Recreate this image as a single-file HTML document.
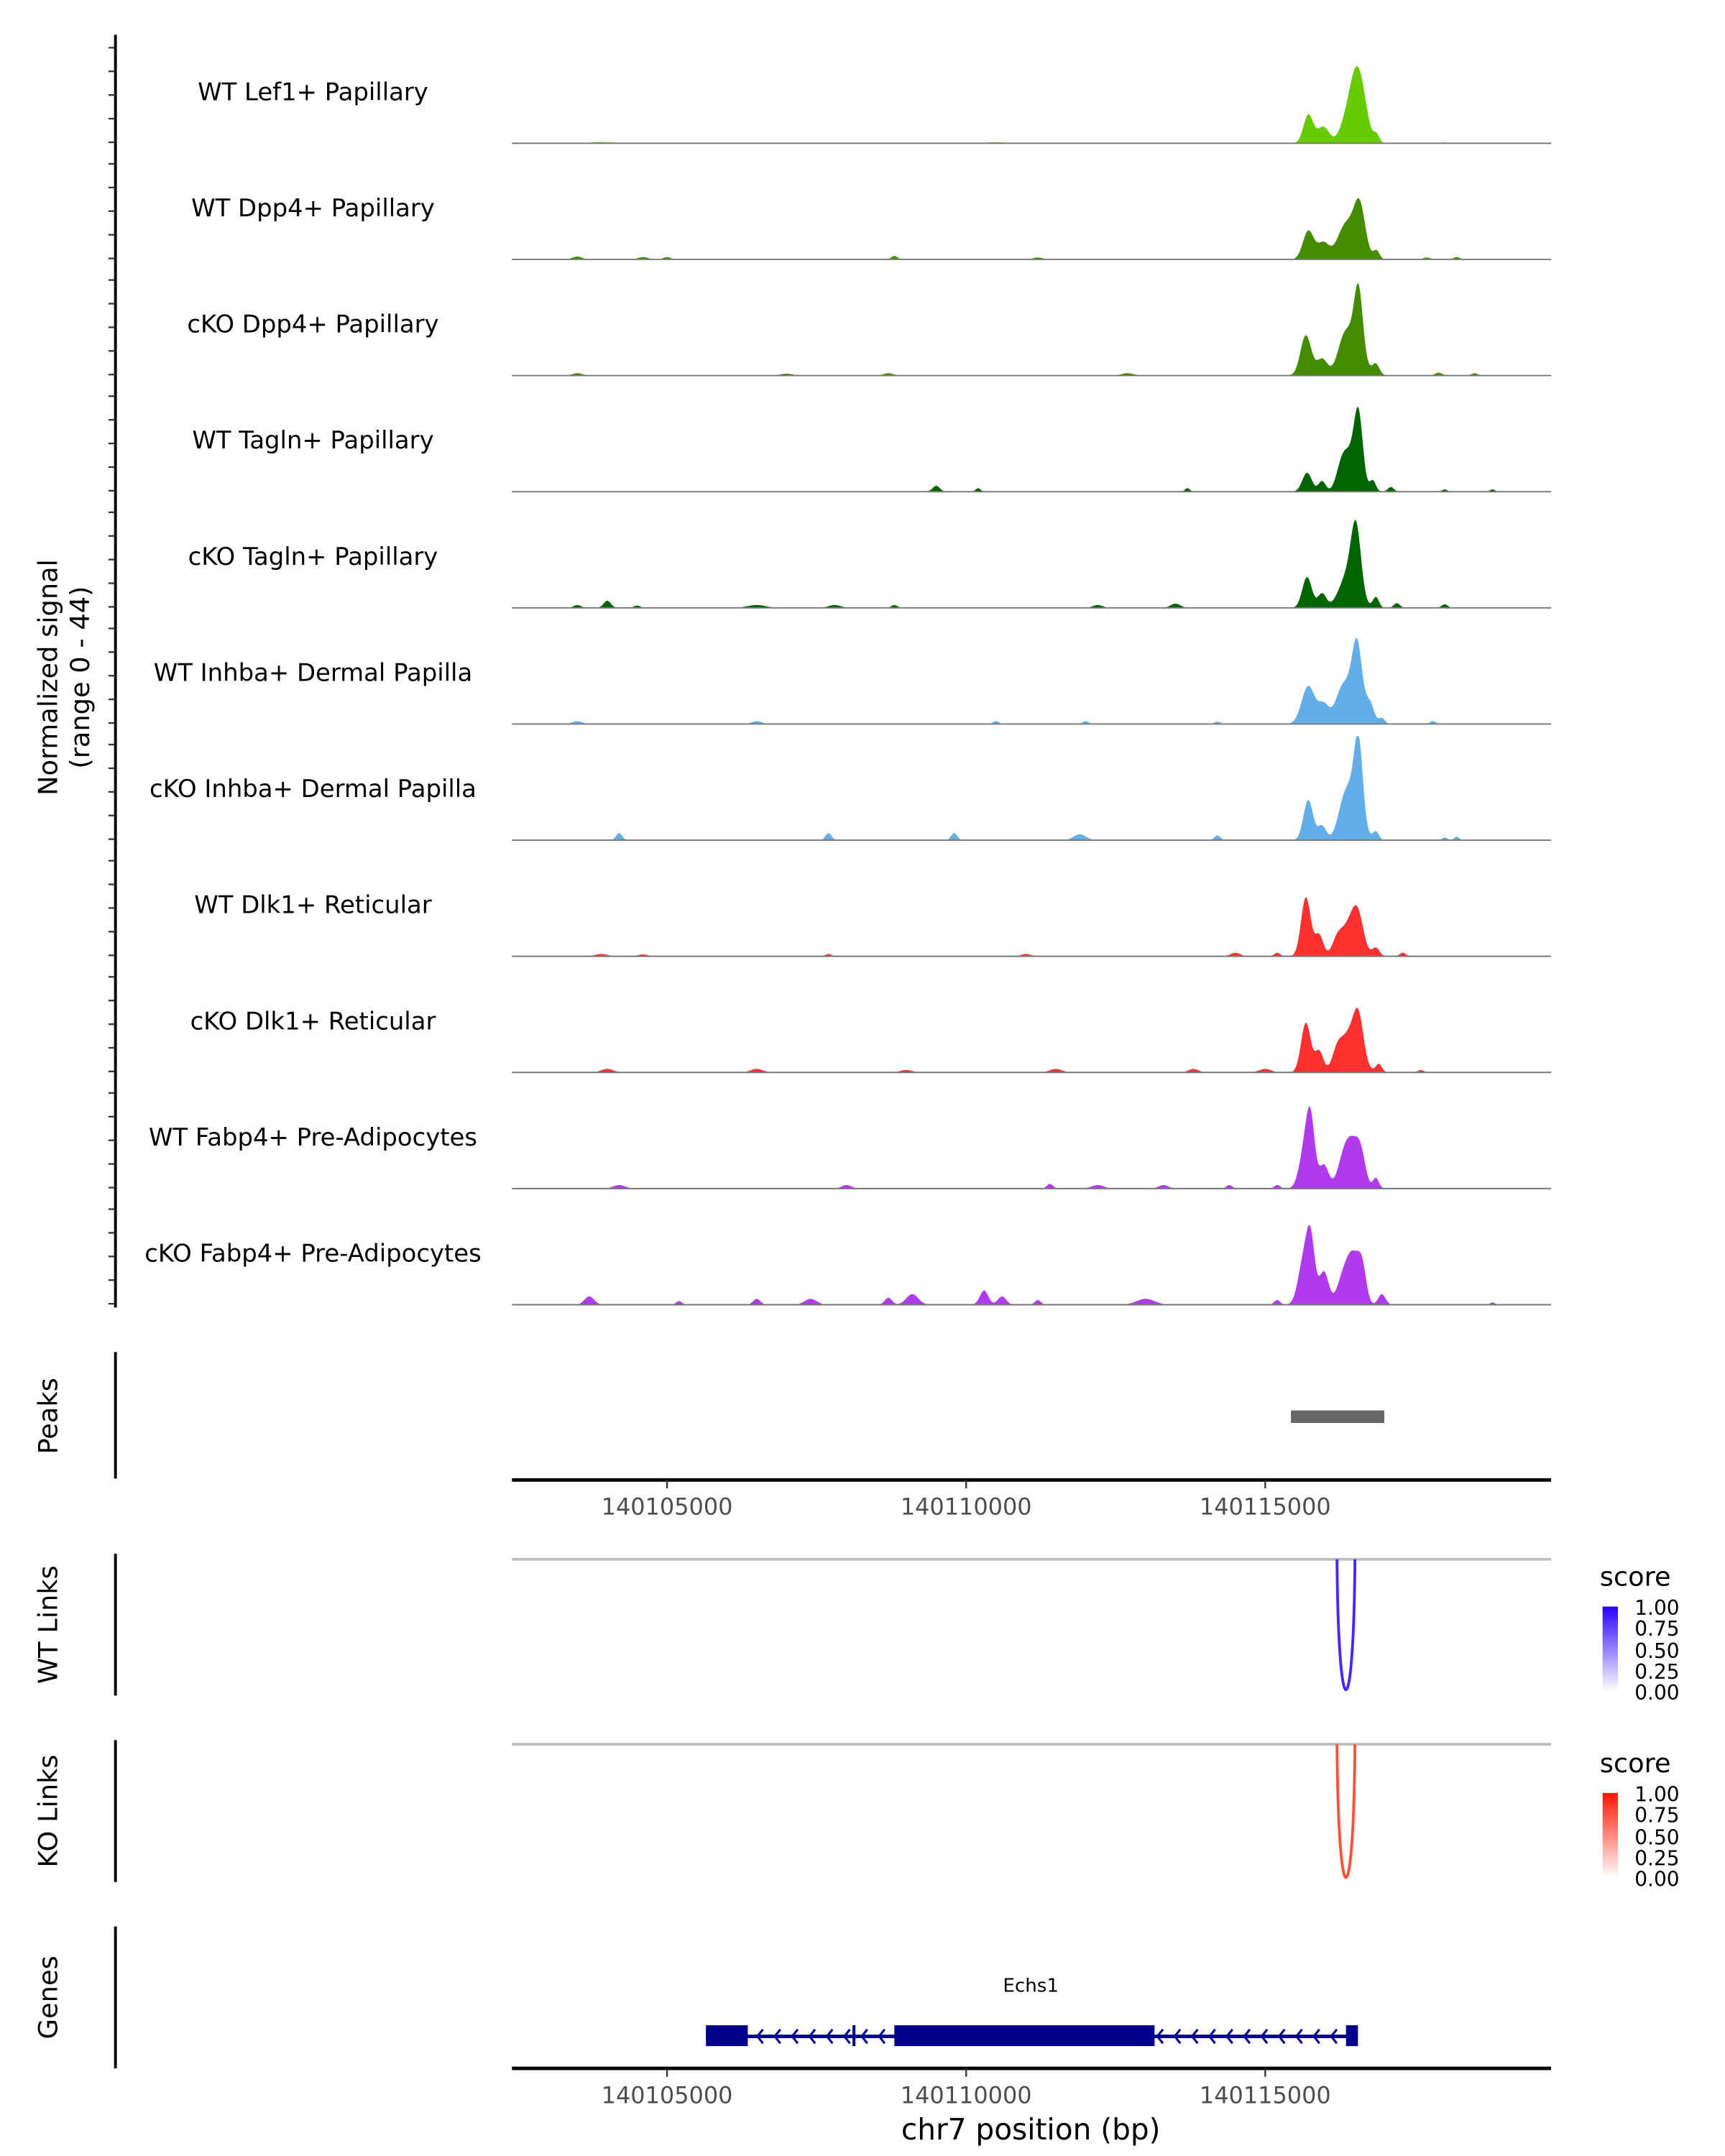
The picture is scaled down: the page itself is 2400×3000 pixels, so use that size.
<!DOCTYPE html>
<html><head><meta charset="utf-8">
<style>
html,body{margin:0;padding:0;background:#fff;}
svg{display:block;font-family:"DejaVu Sans","Liberation Sans",sans-serif;}
</style></head>
<body>
<svg id="fig" xmlns="http://www.w3.org/2000/svg" width="2400" height="3000" viewBox="0 0 1240 1550">
<defs>
<linearGradient id="gBlue" x1="0" y1="1" x2="0" y2="0"><stop offset="0" stop-color="#ffffff"/><stop offset="1" stop-color="#2a00ff"/></linearGradient>
<linearGradient id="gRed" x1="0" y1="1" x2="0" y2="0"><stop offset="0" stop-color="#ffffff"/><stop offset="1" stop-color="#ff1500"/></linearGradient>
</defs>
<line x1="83" y1="25" x2="83" y2="940" stroke="#000" stroke-width="2"/>
<g id="tracks"></g>
<text transform="translate(41,487) rotate(-90)" text-anchor="middle" font-size="19">Normalized signal</text>
<text transform="translate(64,487) rotate(-90)" text-anchor="middle" font-size="19">(range 0 - 44)</text>

<line x1="83" y1="972" x2="83" y2="1063" stroke="#000" stroke-width="2"/>
<text transform="translate(41,1018) rotate(-90)" text-anchor="middle" font-size="19">Peaks</text>
<g id="peaks"></g>
<g id="xaxis1"></g>

<line x1="83" y1="1117" x2="83" y2="1219" stroke="#000" stroke-width="2"/>
<text transform="translate(41,1168) rotate(-90)" text-anchor="middle" font-size="19">WT Links</text>
<line x1="368" y1="1121" x2="1115" y2="1121" stroke="#bdbdbd" stroke-width="2"/>
<g id="wtlinks"></g>
<g>
<text x="1150" y="1140" font-size="19">score</text>
<rect x="1152" y="1155" width="11" height="61" fill="url(#gBlue)"/>
<text x="1175" y="1161" font-size="14.5">1.00</text><text x="1175" y="1176" font-size="14.5">0.75</text><text x="1175" y="1192" font-size="14.5">0.50</text><text x="1175" y="1207" font-size="14.5">0.25</text><text x="1175" y="1222" font-size="14.5">0.00</text>
</g>

<line x1="83" y1="1251" x2="83" y2="1353" stroke="#000" stroke-width="2"/>
<text transform="translate(41,1302) rotate(-90)" text-anchor="middle" font-size="19">KO Links</text>
<line x1="368" y1="1254" x2="1115" y2="1254" stroke="#bdbdbd" stroke-width="2"/>
<g id="kolinks"></g>
<g>
<text x="1150" y="1274" font-size="19">score</text>
<rect x="1152" y="1289" width="11" height="61" fill="url(#gRed)"/>
<text x="1175" y="1295" font-size="14.5">1.00</text><text x="1175" y="1310" font-size="14.5">0.75</text><text x="1175" y="1326" font-size="14.5">0.50</text><text x="1175" y="1341" font-size="14.5">0.25</text><text x="1175" y="1356" font-size="14.5">0.00</text>
</g>

<line x1="83" y1="1385" x2="83" y2="1487" stroke="#000" stroke-width="2"/>
<text transform="translate(41,1436) rotate(-90)" text-anchor="middle" font-size="19">Genes</text>
<g id="genes"></g>
<g id="xaxis2"></g>
<text x="741" y="1538" text-anchor="middle" font-size="21">chr7 position (bp)</text>
</svg>
<script>
// ---- data ----
const trackNames = ["WT Lef1+ Papillary","WT Dpp4+ Papillary","cKO Dpp4+ Papillary","WT Tagln+ Papillary","cKO Tagln+ Papillary","WT Inhba+ Dermal Papilla","cKO Inhba+ Dermal Papilla","WT Dlk1+ Reticular","cKO Dlk1+ Reticular","WT Fabp4+ Pre-Adipocytes","cKO Fabp4+ Pre-Adipocytes"];
const trackColors = ["#66cc00","#458b00","#458b00","#006400","#006400","#63aee8","#63aee8","#ff3030","#ff3030","#b23aee","#b23aee"];
// peaks per track: [position (kb offset from 140100000), signal (0-44), width kb]
const peaks0 = [[15.72,12,0.08],[15.97,7,0.1],[16.32,6,0.1],[16.5,25,0.11],[16.63,13,0.1],[16.86,3.5,0.05],[3.9,0.5,0.2],[10.5,0.4,0.2],[18.0,0.4,0.05]];
const peaks1 = [[15.72,12,0.09],[15.97,7,0.1],[16.3,7,0.12],[16.45,11,0.16],[16.58,17,0.09],[16.86,3.5,0.05],[3.5,1.2,0.08],[4.6,1,0.08],[5.0,1,0.06],[8.8,1.5,0.05],[11.2,0.8,0.08],[17.7,0.8,0.06],[18.2,1,0.05]];
const peaks2 = [[15.68,17,0.09],[15.95,7,0.09],[16.3,7,0.1],[16.45,16,0.16],[16.56,26,0.07],[16.85,4.5,0.06],[17.9,1.2,0.06],[3.5,1,0.08],[7.0,0.8,0.1],[8.7,1,0.08],[12.7,1,0.1],[18.5,1,0.05]];
const peaks3 = [[15.7,8,0.08],[15.95,4.5,0.06],[16.28,9,0.09],[16.45,15,0.13],[16.56,25,0.07],[16.8,4.5,0.05],[17.1,2,0.05],[9.5,2.5,0.06],[10.2,1.5,0.04],[13.7,1.5,0.04],[18.0,1,0.04],[18.8,1,0.04]];
const peaks4 = [[15.7,13,0.08],[15.95,6,0.07],[16.4,15,0.15],[16.52,26,0.08],[16.85,4.5,0.05],[17.2,2,0.05],[4.0,3,0.06],[3.5,1.2,0.06],[4.5,1,0.05],[6.5,1.2,0.15],[7.8,1.2,0.1],[8.8,1.2,0.05],[12.2,1.2,0.08],[13.5,1.8,0.08],[18.0,1.5,0.05]];
const peaks5 = [[15.72,16,0.11],[15.98,8,0.09],[16.25,7,0.1],[16.42,15,0.15],[16.54,25,0.08],[16.75,8,0.07],[16.95,2.5,0.05],[17.8,1.2,0.05],[3.5,1.2,0.08],[6.5,1.2,0.08],[10.5,1.2,0.05],[12.0,1.2,0.05],[14.2,1,0.05]];
const peaks6 = [[15.72,17,0.08],[15.95,6,0.07],[16.3,8,0.1],[16.45,19,0.14],[16.56,31,0.07],[16.85,3.5,0.05],[4.2,3,0.05],[7.7,3,0.05],[9.8,3,0.05],[11.9,2.5,0.1],[14.2,2,0.05],[18.0,1.2,0.04],[18.2,1.5,0.04]];
const peaks7 = [[15.68,25,0.08],[15.9,9,0.07],[16.2,5,0.08],[16.42,14,0.15],[16.55,11,0.09],[16.85,3.5,0.06],[17.3,1.5,0.05],[3.9,1,0.1],[4.6,0.8,0.08],[7.7,1,0.05],[11.0,1,0.08],[14.5,1.5,0.08],[15.2,1.5,0.05]];
const peaks8 = [[15.68,21,0.08],[15.9,9,0.07],[16.2,6,0.08],[16.42,17,0.16],[16.56,15,0.08],[16.9,3.5,0.05],[4.0,1.5,0.1],[6.5,1.5,0.1],[9.0,1,0.1],[11.5,1.5,0.1],[13.8,1.5,0.08],[15.0,1.5,0.1],[17.6,1,0.05]];
const peaks9 = [[15.76,25,0.07],[15.66,16,0.09],[15.98,10,0.08],[16.3,10,0.1],[16.45,17,0.11],[16.6,12,0.08],[16.85,4.5,0.05],[4.2,1.5,0.1],[8.0,1.5,0.08],[11.4,2,0.05],[12.2,1.5,0.1],[13.3,1.5,0.08],[14.4,1.5,0.05],[15.2,1.5,0.05]];
const peaks10 = [[15.76,25,0.07],[15.64,18,0.09],[15.98,14,0.08],[16.3,11,0.1],[16.47,19,0.1],[16.62,14,0.07],[16.95,4.5,0.06],[3.7,3.5,0.08],[5.2,1.5,0.05],[6.5,2.5,0.06],[7.4,2.5,0.1],[8.7,3,0.06],[9.1,4.5,0.1],[10.3,6,0.07],[10.6,3.5,0.07],[11.2,2,0.05],[13.0,2.5,0.15],[15.2,2,0.05],[18.8,1,0.04]];
const trackPeaks = [peaks0,peaks1,peaks2,peaks3,peaks4,peaks5,peaks6,peaks7,peaks8,peaks9,peaks10];
const peakRegions = [[15.43,16.99]];
const xTicks = [140105000,140110000,140115000];
const linkWT = [[16.2,16.5,1.0]];
const linkKO = [[16.2,16.5,1.0]];
const exons = [[5.65,6.35],[8.1,8.15],[8.8,13.15],[16.35,16.55]];
const geneSpan = [5.65,16.55];
const geneName = "Echs1";

// ---- scales ----
const X0 = 368, X1 = 1115, KB0 = 2.407, PXPERKB = 43;
const xs = kb => X0 + (kb - KB0) * PXPERKB;
const xsBp = bp => xs((bp - 140100000)/1000);
const baselines0 = 103, trackStep = 83.5, PXPERUNIT = 1.7;
const NS = "http://www.w3.org/2000/svg";
function mk(tag, attrs, parent){ const e = document.createElementNS(NS, tag); for (const k in attrs) e.setAttribute(k, attrs[k]); parent.appendChild(e); return e; }

const tg = document.getElementById('tracks');
trackNames.forEach((name, i) => {
  const base = baselines0 + i*trackStep;
  const g = mk('g', {}, tg);
  
  
  for (let t = 0; t <= 40; t += 10) {
    const y = base - 0.7 - t*PXPERUNIT;
    const tk = mk('line', {x1:78, y1:y, x2:83, y2:y, stroke:'#333','stroke-width':1.2}, g);
    
    
  }
  const pk = trackPeaks[i];
  let d = 'M' + X0 + ',' + base;
  for (let px = X0; px <= X1; px += 0.8) {
    const kb = KB0 + (px - X0)/PXPERKB;
    let v = 0;
    pk.forEach(p => { const z = (kb - p[0])/p[2]; v += p[1]*Math.exp(-0.5*z*z); });
    v = Math.min(v, 44);
    d += ' L' + px.toFixed(1) + ',' + (base - v*PXPERUNIT).toFixed(2);
  }
  d += ' L' + X1 + ',' + base + ' Z';
  const area = mk('path', {d:d, fill:trackColors[i]}, g);
  
  
  const bl = mk('line', {x1:X0, y1:base, x2:X1, y2:base, stroke:'#777','stroke-width':1}, g);
  
  
  const lab = mk('text', {x:225, y:base-31, 'text-anchor':'middle','font-size':17.5}, g);
  lab.textContent = name;
  
  
});

const pg = document.getElementById('peaks');
peakRegions.forEach(r => {
  const b = mk('rect', {x:xs(r[0]), y:1014, width:xs(r[1])-xs(r[0]), height:9, fill:'#666'}, pg);
  
  
});

function xAxis(id, y){
  const g = document.getElementById(id);
  
  
  mk('line', {x1:X0, y1:y, x2:X1, y2:y, stroke:'#000','stroke-width':2.5}, g);
  xTicks.forEach(t => {
    const x = xsBp(t);
    mk('line', {x1:x, y1:y, x2:x, y2:y+6, stroke:'#333','stroke-width':1.2}, g);
    const tx = mk('text', {x:x, y:y+25, 'text-anchor':'middle','font-size':16.5, fill:'#4d4d4d'}, g);
    tx.textContent = t;
    
    
  });
}
xAxis('xaxis1', 1064);
xAxis('xaxis2', 1487);

function links(id, data, top, bottom, color){
  const g = document.getElementById(id);
  data.forEach(l => {
    const a = xs(l[0]), b = xs(l[1]);
    const depth = (bottom - top) * l[2];
    const p = mk('path', {d:`M${a},${top} C${a+1},${top+depth*1.33} ${b-1},${top+depth*1.33} ${b},${top}`, fill:'none', stroke:color,'stroke-width':2}, g);
    
    
  });
}
links('wtlinks', linkWT, 1121, 1215, '#4a25ff');
links('kolinks', linkKO, 1254, 1350, '#ff5236');

const gg = document.getElementById('genes');


mk('line', {x1:xs(geneSpan[0]), y1:1464, x2:xs(geneSpan[1]), y2:1464, stroke:'#00008b','stroke-width':2.5}, gg);
for (let x = xs(geneSpan[0]) + 14; x < xs(geneSpan[1]) - 3; x += 12.5) {
  const inEx = exons.some(e => x > xs(e[0]) - 2 && x < xs(e[1]) + 4);
  if (inEx) continue;
  mk('path', {d:`M${x+2},${1459} L${x-2},${1464} L${x+2},${1469}`, fill:'none', stroke:'#00008b','stroke-width':1.6}, gg);
}
exons.forEach(e => {
  const r = mk('rect', {x:xs(e[0]), y:1456, width:Math.max(2, xs(e[1])-xs(e[0])), height:15, fill:'#00008b'}, gg);
  
  
});
const gl = mk('text', {x:741, y:1432, 'text-anchor':'middle','font-size':13.5}, gg);
gl.textContent = geneName;


</script>
</body></html>
